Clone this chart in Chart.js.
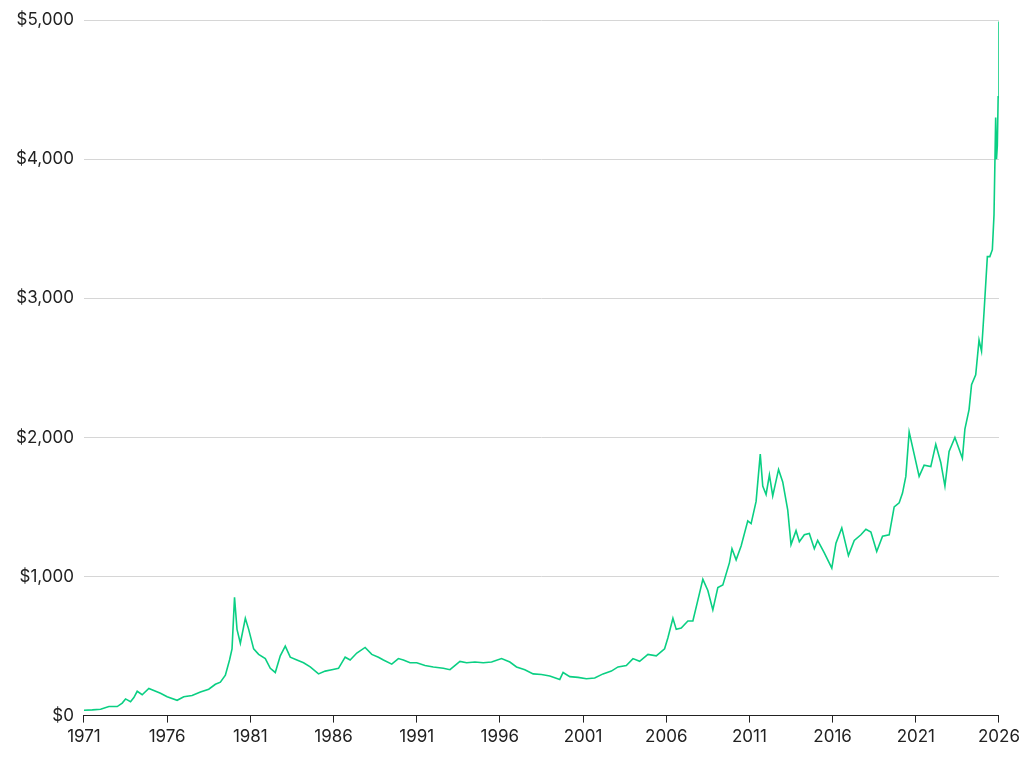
<!DOCTYPE html>
<html>
<head>
<meta charset="utf-8">
<script src="https://cdn.jsdelivr.net/npm/chart.js@4"></script>
<style>
  html, body { margin: 0; padding: 0; background: #fff; }
  #wrap { width: 1024px; height: 768px; }
</style>
</head>
<body>
<div id="wrap"><canvas id="goldChart"></canvas></div>
<script>
// Gold price, USD per ounce
const years = [
  1971.0, 1971.5, 1972.0, 1972.5, 1973.0, 1973.3, 1973.5, 1973.8, 1974.0, 1974.2, 1974.5, 1974.9, 1975.2, 1975.6, 1976.0, 1976.6, 1977.0, 1977.5, 1978.0, 1978.5, 1978.9,
  1979.2, 1979.5, 1979.75, 1979.9, 1980.05, 1980.2, 1980.4, 1980.7, 1980.9, 1981.2, 1981.5, 1981.9, 1982.2, 1982.5, 1982.8, 1983.1, 1983.4, 1983.8, 1984.2, 1984.6, 1985.1, 1985.5, 1985.9,
  1986.3, 1986.7, 1987.0, 1987.4, 1987.9, 1988.3, 1988.7, 1989.0, 1989.5, 1989.9, 1990.2, 1990.6, 1991.0, 1991.5, 1992.0, 1992.6, 1993.0, 1993.6, 1994.0, 1994.5, 1995.0, 1995.5, 1996.1, 1996.6,
  1997.0, 1997.5, 1998.0, 1998.5, 1999.0, 1999.6, 1999.8, 2000.2, 2000.7, 2001.2, 2001.7, 2002.2, 2002.7, 2003.1, 2003.6, 2004.0, 2004.4, 2004.9, 2005.4, 2005.9,
  2006.1, 2006.4, 2006.6, 2006.9, 2007.3, 2007.6, 2007.9, 2008.2, 2008.5, 2008.8, 2009.1, 2009.4, 2009.8, 2009.95, 2010.2, 2010.5, 2010.9, 2011.1, 2011.4, 2011.65, 2011.8, 2012.0, 2012.2, 2012.4, 2012.75, 2013.0, 2013.3, 2013.5, 2013.8,
  2014.0, 2014.3, 2014.6, 2014.9, 2015.1, 2015.5, 2015.95, 2016.2, 2016.55, 2016.95, 2017.3, 2017.7, 2018.0, 2018.3, 2018.65, 2019.0, 2019.4, 2019.7, 2020.0, 2020.2, 2020.4, 2020.6,
  2020.9, 2021.2, 2021.5, 2021.9, 2022.2, 2022.5, 2022.75, 2023.0, 2023.35, 2023.8, 2023.95, 2024.2, 2024.35, 2024.6, 2024.8, 2024.95, 2025.1, 2025.3, 2025.45, 2025.6, 2025.7, 2025.8, 2025.85, 2025.9, 2025.95, 2026.0
];
const prices = [
  38, 41, 46, 65, 65, 90, 120, 100, 130, 175, 150, 195, 180, 160, 135, 110, 135, 145, 170, 190, 225,
  240, 290, 400, 480, 850, 620, 520, 700, 620, 480, 440, 410, 340, 310, 430, 500, 420, 400, 380, 350, 300, 320, 330,
  340, 420, 400, 450, 490, 440, 420, 400, 370, 410, 400, 380, 380, 360, 350, 340, 330, 390, 380, 385, 380, 385, 410, 385,
  350, 330, 300, 295, 285, 260, 310, 280, 275, 265, 270, 300, 320, 350, 360, 410, 390, 440, 430, 480,
  560, 700, 620, 630, 680, 680, 830, 980, 900, 760, 920, 940, 1100, 1200, 1120, 1220, 1400, 1380, 1540, 1880, 1650, 1590, 1730, 1580, 1770, 1680, 1480, 1230, 1330,
  1250, 1300, 1310, 1200, 1260, 1170, 1060, 1240, 1350, 1150, 1260, 1300, 1340, 1320, 1180, 1290, 1300, 1500, 1530, 1600, 1720, 2040,
  1880, 1720, 1800, 1790, 1950, 1820, 1650, 1900, 2000, 1850, 2060, 2200, 2380, 2450, 2700, 2620, 2900, 3300, 3300, 3350, 3600, 4300, 4000, 4100, 4450, 4990
];
const tickYears = [1971, 1976, 1981, 1986, 1991, 1996, 2001, 2006, 2011, 2016, 2021, 2026];
const tickPrices = [0, 1000, 2000, 3000, 4000, 5000];

const points = years.map((y, i) => ({ x: y, y: prices[i] }));
const font = { family: 'Inter', size: 17 };

new Chart(document.getElementById('goldChart'), {
  type: 'line',
  data: {
    datasets: [{
      data: points,
      borderColor: '#0acf83',
      borderWidth: 1.6,
      pointRadius: 0,
      tension: 0
    }]
  },
  options: {
    responsive: true,
    maintainAspectRatio: false,
    animation: false,
    layout: { padding: { top: 19, right: 24, left: 6, bottom: 17 } },
    plugins: { legend: { display: false }, tooltip: { enabled: false } },
    scales: {
      x: {
        type: 'linear',
        min: 1971,
        max: 2026,
        afterBuildTicks: axis => { axis.ticks = tickYears.map(v => ({ value: v })); },
        ticks: { color: '#222', font: font, callback: v => String(v), padding: 4, maxRotation: 0 },
        grid: { display: true, drawOnChartArea: false, drawTicks: true, tickLength: 7, color: '#222' },
        border: { color: '#222', width: 1 }
      },
      y: {
        min: 0,
        max: 5000,
        afterBuildTicks: axis => { axis.ticks = tickPrices.map(v => ({ value: v })); },
        ticks: { color: '#222', font: font, padding: 10, callback: v => '$' + v.toLocaleString('en-US') },
        grid: { color: '#d6d6d6', drawTicks: false },
        border: { display: false }
      }
    }
  }
});
</script>
</body>
</html>
